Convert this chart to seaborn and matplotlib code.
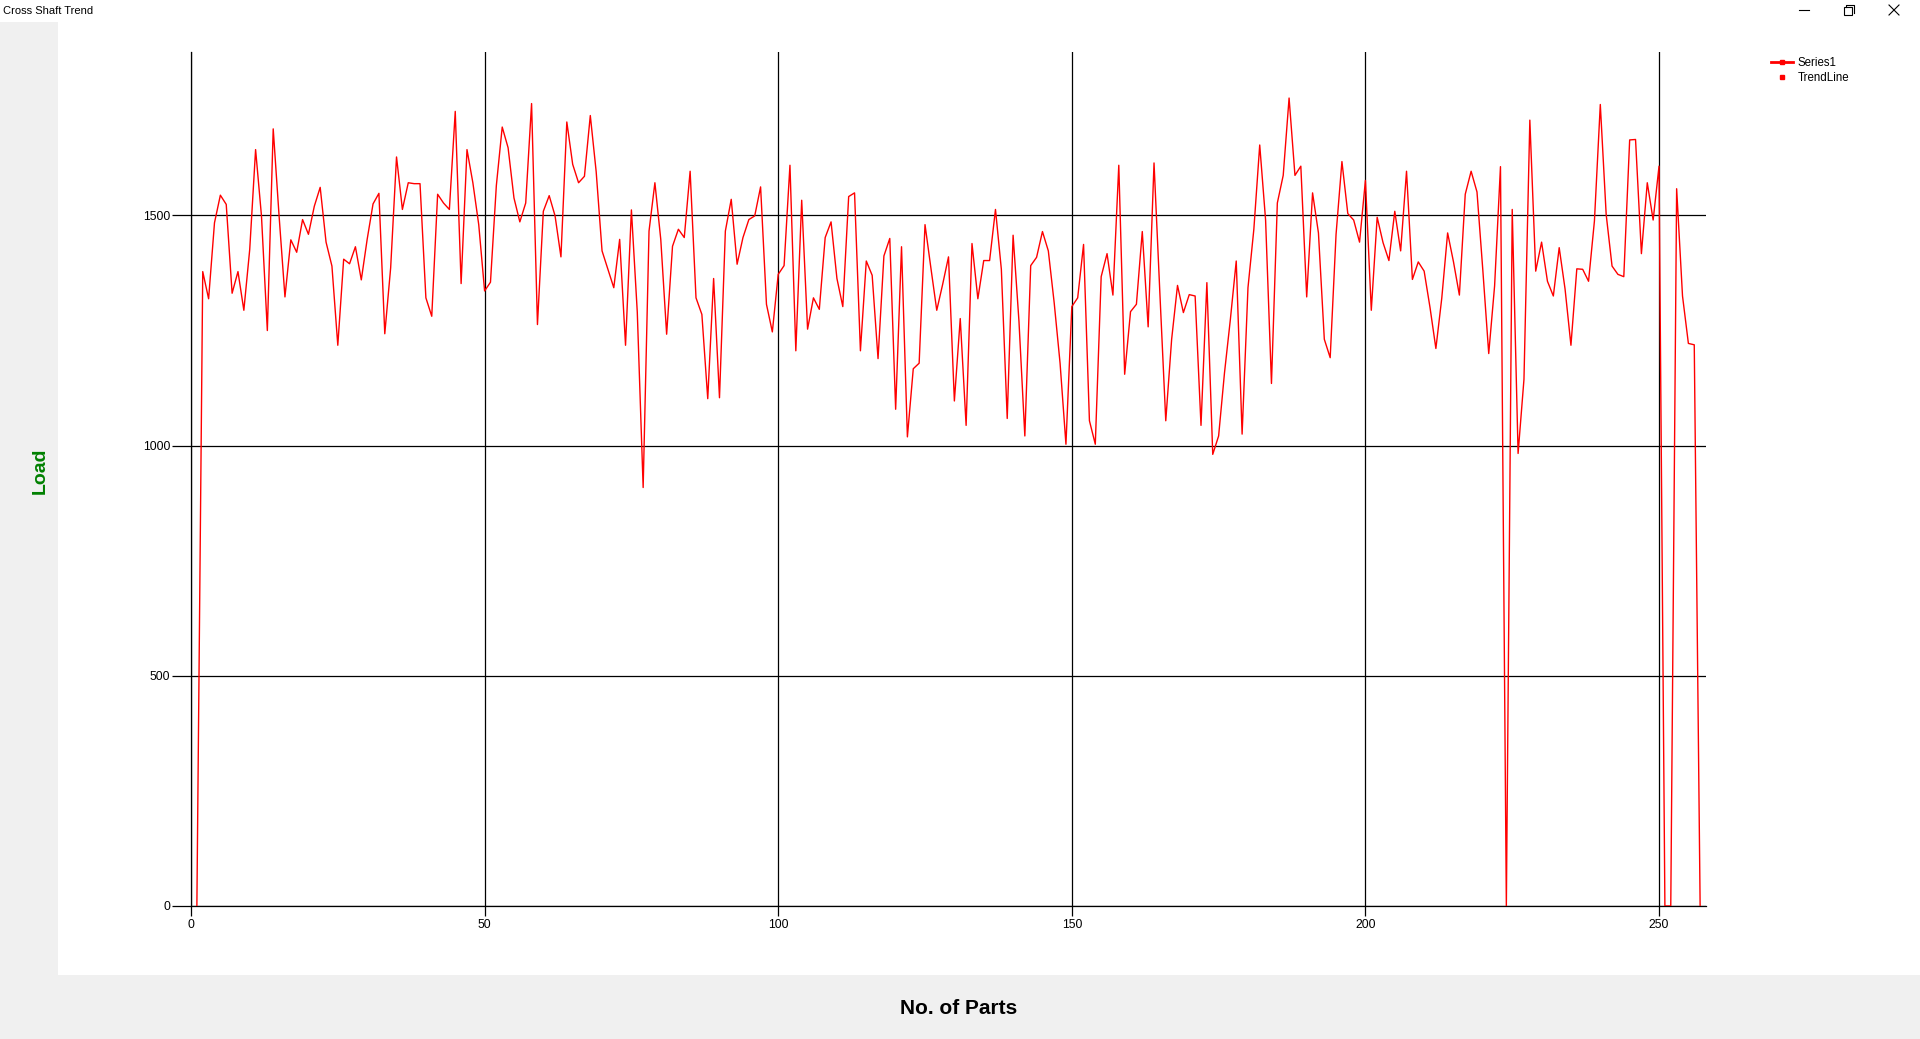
import numpy as np
import pandas as pd
import matplotlib
matplotlib.use("Agg")
import matplotlib.pyplot as plt
from matplotlib.lines import Line2D
from matplotlib.patches import Rectangle
import seaborn as sns

# ---------------- data ----------------
parts = list(range(1, 258))
load = [
    0, 1378, 1319, 1484, 1544, 1524, 1331, 1378, 1294, 1426,
    1643, 1499, 1250, 1688, 1499, 1323, 1447, 1420, 1491, 1459,
    1520, 1561, 1442, 1390, 1218, 1405, 1395, 1432, 1360, 1448,
    1525, 1548, 1243, 1386, 1627, 1513, 1571, 1569, 1569, 1321,
    1281, 1546, 1527, 1513, 1726, 1352, 1643, 1571, 1480, 1336,
    1355, 1565, 1692, 1647, 1538, 1486, 1527, 1743, 1263, 1509,
    1543, 1499, 1410, 1703, 1611, 1571, 1585, 1717, 1595, 1423,
    1383, 1343, 1448, 1218, 1512, 1290, 909, 1466, 1571, 1448,
    1242, 1433, 1470, 1452, 1596, 1321, 1285, 1102, 1363, 1104,
    1466, 1535, 1394, 1452, 1491, 1499, 1562, 1307, 1247, 1372,
    1391, 1609, 1206, 1533, 1253, 1321, 1296, 1452, 1486, 1363,
    1302, 1541, 1549, 1206, 1401, 1370, 1189, 1412, 1450, 1079,
    1432, 1019, 1167, 1179, 1480, 1386, 1294, 1350, 1410, 1097,
    1276, 1044, 1439, 1319, 1402, 1402, 1513, 1383, 1059, 1457,
    1270, 1021, 1391, 1409, 1465, 1423, 1310, 1179, 1003, 1302,
    1321, 1437, 1054, 1003, 1367, 1417, 1327, 1609, 1155, 1291,
    1307, 1465, 1258, 1614, 1330, 1054, 1231, 1348, 1289, 1328,
    1325, 1044, 1354, 981, 1021, 1158, 1274, 1401, 1025, 1343,
    1470, 1653, 1490, 1135, 1527, 1587, 1755, 1587, 1607, 1323,
    1549, 1462, 1231, 1191, 1459, 1617, 1504, 1490, 1442, 1576,
    1294, 1496, 1441, 1402, 1509, 1423, 1596, 1361, 1399, 1379,
    1300, 1211, 1320, 1462, 1399, 1327, 1546, 1596, 1551, 1380,
    1200, 1347, 1606, 0, 1513, 983, 1144, 1707, 1379, 1442,
    1357, 1325, 1430, 1340, 1218, 1384, 1383, 1357, 1488, 1741,
    1502, 1390, 1372, 1367, 1664, 1665, 1417, 1571, 1490, 1607,
    0, 0, 1558, 1325, 1222, 1219, 0,
]
x_ticks = [0, 50, 100, 150, 200, 250]
y_ticks = [0, 500, 1000, 1500]
series_names = ["Series1", "TrendLine"]
window_title = "Cross Shaft Trend"
x_label = "No. of Parts"
y_label = "Load"

df = pd.DataFrame({"part": parts, "load": load})

# ---------------- figure ----------------
W, H = 1920, 1039
plt.rcParams["font.family"] = ["Liberation Sans", "DejaVu Sans"]
fig = plt.figure(figsize=(W / 100, H / 100), dpi=100, facecolor="#F0F0F0")

def fx(px):
    return px / W

def fy(py):
    return 1 - py / H

# white areas (title bar and chart area)
fig.add_artist(Rectangle((0, fy(22)), 1, 22 / H, transform=fig.transFigure,
                         facecolor="white", edgecolor="none", zorder=0))
fig.add_artist(Rectangle((fx(58), fy(975)), 1 - fx(58), (975 - 22) / H,
                         transform=fig.transFigure, facecolor="white",
                         edgecolor="none", zorder=0))

# window title + controls
fig.text(fx(3), fy(11), window_title, fontsize=8, va="center", ha="left",
         family=["Segoe UI", "Liberation Sans", "DejaVu Sans"])
fig.add_artist(Line2D([fx(1799), fx(1809)], [fy(10), fy(10)],
                      transform=fig.transFigure, color="black", lw=0.8))
fig.add_artist(Rectangle((fx(1844), fy(15)), 8 / W, 8 / H, transform=fig.transFigure,
                         facecolor="none", edgecolor="black", lw=0.8))
fig.add_artist(Line2D([fx(1846), fx(1846), fx(1854), fx(1854)],
                      [fy(7), fy(5), fy(5), fy(13)],
                      transform=fig.transFigure, color="black", lw=0.8))
fig.add_artist(Line2D([fx(1889), fx(1899)], [fy(5), fy(15)],
                      transform=fig.transFigure, color="black", lw=0.8))
fig.add_artist(Line2D([fx(1889), fx(1899)], [fy(15), fy(5)],
                      transform=fig.transFigure, color="black", lw=0.8))

# plot axes
ax = fig.add_axes([fx(191), fy(906), fx(1706) - fx(191), (906 - 52) / H])
ax.set_facecolor("none")

sns.lineplot(data=df, x="part", y="load", color="#FF0000", linewidth=1.0,
             ax=ax, legend=False, zorder=3)

ax.set_xlim(0, 258)
ax.set_ylim(0, 1855)
ax.set_xticks(x_ticks)
ax.set_yticks(y_ticks)
ax.grid(True, color="black", linewidth=0.9, zorder=1)
ax.set_axisbelow(True)
for name, s in ax.spines.items():
    if name in ("left", "bottom"):
        s.set_visible(True)
        s.set_color("black")
        s.set_linewidth(0.9)
    else:
        s.set_visible(False)
ax.tick_params(axis="y", length=13.5, width=0.9, pad=1.5, labelsize=8.8,
               colors="black")
ax.tick_params(axis="x", length=7.5, width=0.9, pad=2, labelsize=8.8,
               colors="black")
ax.set_xlabel("")
ax.set_ylabel("")

# axis titles
fig.text(fx(40), fy(471), y_label, rotation=90, color="#008000",
         fontsize=14, fontweight="bold", ha="center", va="center")
fig.text(fx(959), fy(1008), x_label, color="black", fontsize=15,
         fontweight="bold", ha="center", va="center")

# legend
handles = [
    Line2D([0], [0], color="#FF0000", lw=2, marker="s", markersize=3),
    Line2D([0], [0], color="#FF0000", lw=0, marker="s", markersize=3),
]
fig.legend(handles, series_names, loc="upper left",
           bbox_to_anchor=(fx(1771), fy(57)), frameon=False, fontsize=8.3,
           handlelength=1.9, handletextpad=0.4, labelspacing=0.25,
           borderaxespad=0, borderpad=0)

fig.savefig("out.png", dpi=100, facecolor=fig.get_facecolor())
